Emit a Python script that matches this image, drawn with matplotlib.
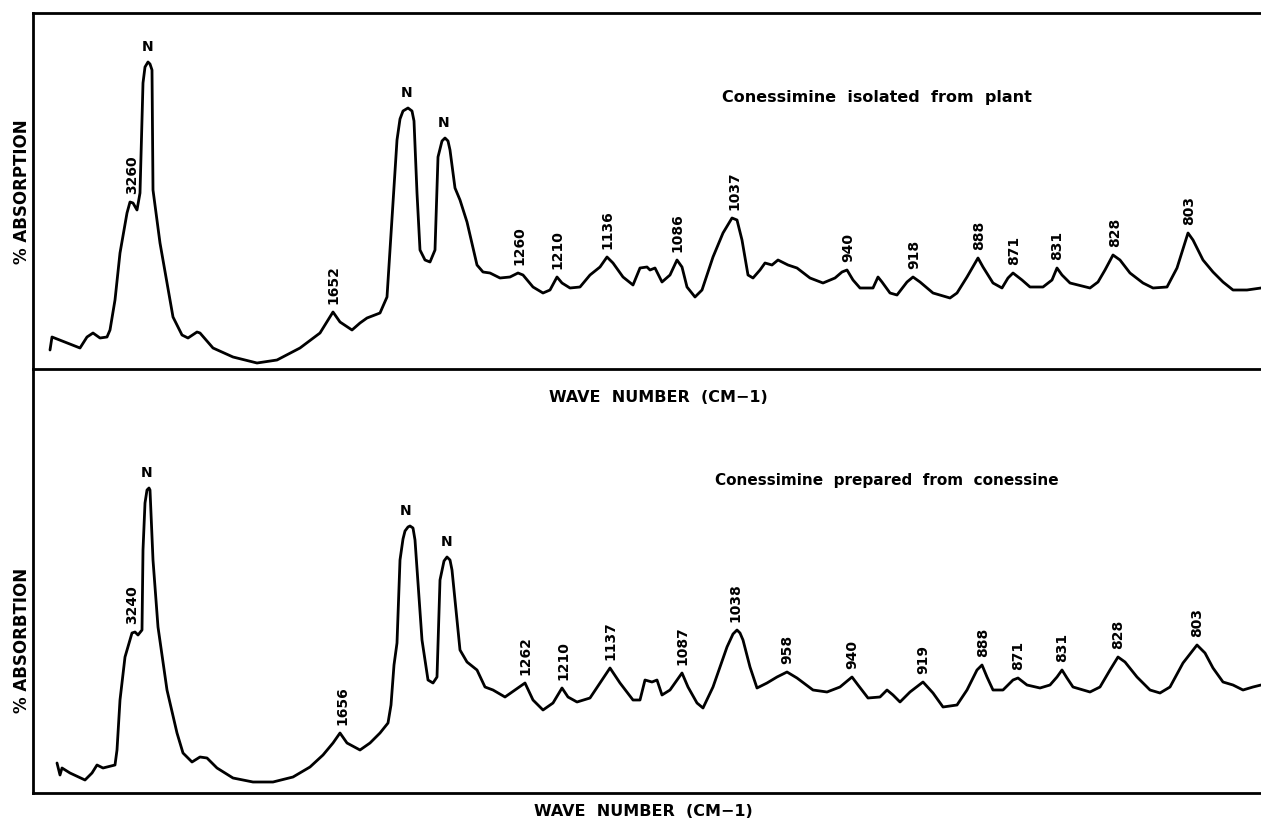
import matplotlib.pyplot as plt
import numpy as np

top_x = [17, 19, 47, 54, 60, 67, 74, 77, 82, 87, 94, 97, 100, 104, 107, 110, 112, 115, 117, 119, 120, 127,
         134, 140, 149, 155, 164, 167, 180, 200, 224, 244, 267, 287, 297, 300, 307, 319, 327, 334, 347, 354,
         357, 360, 364, 367, 370, 375, 379, 381, 384, 387, 392, 397, 402, 405, 409, 412, 415, 417, 422, 427, 434, 444, 450, 457,
         467, 477, 485, 490, 500, 510, 517, 524, 529, 537, 547, 557, 567, 574, 580, 590, 600, 607, 614, 617,
         622, 629, 637, 644, 649, 654, 662, 669, 680, 690, 699, 704, 709, 715, 720, 727, 732, 739, 745, 755,
         764, 777, 790, 802, 809, 814, 820, 827, 840, 845, 849, 857, 864, 874, 880, 887, 900, 917, 924, 934,
         945, 950, 960, 969, 975, 980, 989, 997, 1010, 1019, 1024, 1029, 1037, 1057, 1065, 1072, 1080, 1087, 1097, 1110,
         1120, 1134, 1144, 1155, 1160, 1170, 1180, 1190, 1200, 1214, 1228]
top_y = [19, 32, 21, 32, 36, 31, 32, 39, 69, 116, 156, 167, 166, 159, 176, 286, 302, 307, 305, 299, 179, 126,
         86, 52, 34, 31, 37, 36, 21, 12, 6, 9, 21, 36, 52, 57, 47, 39, 46, 51, 56, 72,
         119, 166, 229, 250, 258, 261, 258, 248, 176, 119, 109, 107, 119, 212, 228, 231, 228, 219, 181, 169, 147, 104, 97, 96,
         91, 92, 96, 94, 82, 76, 79, 92, 86, 81, 82, 94, 102, 112, 106, 92, 84, 101, 102, 99,
         101, 87, 94, 109, 102, 82, 72, 79, 112, 136, 151, 149, 129, 94, 91, 99, 106, 104, 109, 104,
         101, 91, 86, 91, 97, 99, 89, 81, 81, 92, 87, 76, 74, 87, 92, 87, 76, 71, 76, 92,
         111, 102, 86, 81, 91, 96, 89, 82, 82, 89, 101, 94, 86, 81, 87, 99, 114, 109, 96, 86,
         81, 82, 101, 136, 129, 109, 97, 87, 79, 79, 81]

bot_x = [24, 27, 29, 37, 52, 59, 64, 70, 82, 84, 87, 92, 99, 102, 105, 109, 110, 112, 114, 116, 117, 120,
         125, 134, 144, 150, 159, 167, 174, 184, 200, 220, 240, 260, 277, 290, 300, 307, 314, 327, 337, 347,
         355, 358, 361, 364, 367, 370, 372, 375, 377, 380, 382, 389, 395, 400, 404, 407, 411, 414, 417, 419, 427, 434, 444, 452, 460,
         472, 482, 492, 500, 510, 520, 529, 535, 544, 557, 569, 577, 587, 600, 607, 612, 619, 624, 629, 637,
         644, 649, 655, 664, 670, 680, 694, 700, 704, 707, 710, 717, 724, 734, 744, 754, 764, 780, 794, 807, 819, 825,
         835, 847, 854, 860, 867, 877, 890, 900, 910, 924, 934, 944, 949, 954, 960, 970, 980, 985, 994, 1007,
         1017, 1024, 1029, 1034, 1040, 1057, 1067, 1077, 1085, 1092, 1104, 1117, 1127, 1137, 1150, 1164, 1172, 1180, 1190, 1200,
         1210, 1220, 1228]
bot_y = [30, 18, 25, 20, 13, 20, 28, 25, 28, 43, 93, 136, 160, 161, 158, 163, 243, 290, 303, 305, 303, 233,
         166, 103, 60, 40, 31, 36, 35, 25, 15, 11, 11, 16, 26, 38, 50, 60, 50, 43, 50, 60,
         70, 88, 128, 150, 233, 254, 262, 266, 267, 265, 253, 153, 113, 110, 116, 213, 232, 236, 233, 223, 143, 131, 123, 106, 103,
         96, 103, 110, 93, 83, 90, 105, 96, 91, 95, 113, 125, 110, 93, 93, 113, 111, 113, 98, 103,
         113, 120, 106, 90, 85, 106, 146, 159, 163, 160, 153, 126, 105, 110, 116, 121, 115, 103, 101, 106, 116, 108,
         95, 96, 103, 98, 91, 101, 111, 100, 86, 88, 103, 123, 128, 116, 103, 103, 113, 115, 108, 105,
         108, 116, 123, 115, 106, 101, 106, 123, 136, 131, 116, 103, 100, 106, 130, 148, 140, 125, 111, 108,
         103, 106, 108]

top_labels = ["3260", "N", "1652", "N", "N", "1260", "1210", "1136", "1086", "1037",
              "940", "918", "888", "871", "831", "828", "803"]
top_label_x = [99, 115, 300, 374, 411, 486, 524, 574, 644, 701,
               815, 881, 946, 981, 1024, 1082, 1156]
bot_labels = ["3240", "N", "1656", "N", "N", "1262", "1210", "1137", "1087", "1038", "958",
              "940", "919", "888", "871", "831", "828", "803"]
bot_label_x = [99, 114, 309, 373, 414, 492, 530, 577, 649, 702, 754,
               819, 890, 950, 985, 1029, 1085, 1164]

W, H = 1261, 823
fig = plt.figure(figsize=(W / 100, H / 100), dpi=100)
ax2 = fig.add_axes([33 / W, 1 - 793 / H, 1 - 33 / W, (793 - 369) / H])
ax1 = fig.add_axes([33 / W, 1 - 369 / H, 1 - 33 / W, (369 - 13) / H])


def draw(ax, x, y, labels, label_x, ymax, spines):
    ax.set_facecolor("none")
    ax.plot(x, y, color="black", lw=2.0, solid_joinstyle="round", solid_capstyle="round")
    ax.set_xlim(0, 1228)
    ax.set_ylim(0, ymax)
    ax.set_xticks([])
    ax.set_yticks([])
    for side in ["left", "right", "top", "bottom"]:
        ax.spines[side].set_visible(side in spines)
        ax.spines[side].set_linewidth(2.0)
    for text, lx in zip(labels, label_x):
        peak = np.interp(np.arange(lx - 6, lx + 7), x, y).max()
        rot = 0 if text == "N" else 90
        ax.annotate(text, (lx, peak), xytext=(0, 6), textcoords="offset points",
                    ha="center", va="bottom", rotation=rot, fontsize=10,
                    fontweight="bold", family="DejaVu Sans")


draw(ax1, top_x, top_y, top_labels, top_label_x, 356, ["left", "top", "bottom"])
draw(ax2, bot_x, bot_y, bot_labels, bot_label_x, 424, ["left", "bottom"])

ax1.text(0.561, 0.764, "Conessimine  isolated  from  plant", transform=ax1.transAxes,
         fontsize=11.5, fontweight="bold", va="center", ha="left")
ax2.text(0.555, 0.738, "Conessimine  prepared  from  conessine", transform=ax2.transAxes,
         fontsize=11, fontweight="bold", va="center", ha="left")

fig.text(22 / W, 1 - 192 / H, "% ABSORPTION", rotation=90, fontsize=12,
         fontweight="bold", ha="center", va="center")
fig.text(22 / W, 1 - 640 / H, "% ABSORBTION", rotation=90, fontsize=12,
         fontweight="bold", ha="center", va="center")
fig.text(658 / W, 1 - 397 / H, "WAVE  NUMBER  (CM\u22121)", fontsize=11.5,
         fontweight="bold", ha="center", va="center")
fig.text(643 / W, 1 - 812 / H, "WAVE  NUMBER  (CM\u22121)", fontsize=11.5,
         fontweight="bold", ha="center", va="center")

fig.savefig("out.png", dpi=100)
